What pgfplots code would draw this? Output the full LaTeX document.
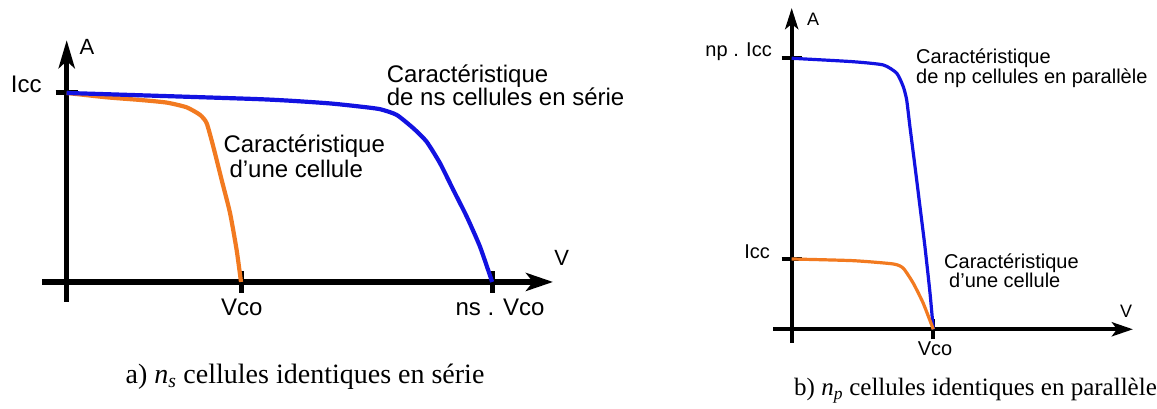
\documentclass[border=0pt]{standalone}
\usepackage{fontspec}
\setmainfont{Liberation Sans}
\newfontfamily\capfont{Liberation Serif}
\usepackage{pgfplots}
\pgfplotsset{compat=1.18}
\usetikzlibrary{arrows.meta}
\definecolor{cellblue}{RGB}{18,18,225}
\definecolor{cellorange}{RGB}{242,122,32}

\begin{document}
\begin{tikzpicture}[x=1pt,y=1pt]
\useasboundingbox (0,0) rectangle (1157,409);

% (a) cells in series
\begin{axis}[
  at={(42.3pt,107pt)}, anchor=south west,
  x=174.3pt, y=189pt,
  xmin=-0.14, xmax=2.79, ymin=-0.106, ymax=1.28,
  axis lines=middle,
  line width=5.5pt,
  every inner x axis line/.append style={-{Stealth[length=27pt,width=18pt,inset=7pt]}},
  every inner y axis line/.append style={-{Stealth[length=28pt,width=16pt,inset=7pt]}},
  xtick={1,2.441}, ytick={1},
  xticklabels={}, yticklabels={},
  tick align=center,
  major tick length=22pt,
  every major tick/.append style={line width=5pt, black},
  clip=false,
]
\addplot[cellorange, line width=4.2pt, smooth, tension=0.35] coordinates {
  (0,1) (0.229,0.977) (0.421,0.963) (0.574,0.949) (0.688,0.924)
  (0.765,0.884) (0.803,0.840) (0.841,0.716) (0.889,0.540)
  (0.937,0.365) (0.975,0.169) (1,0)};
\addplot[cellblue, line width=4.2pt, smooth, tension=0.35] coordinates {
  (0,1) (1.109,0.967) (1.492,0.946) (1.683,0.928) (1.798,0.914)
  (1.893,0.884) (1.989,0.813) (2.065,0.742) (2.142,0.628)
  (2.218,0.487) (2.295,0.346) (2.371,0.187) (2.441,0)};
\end{axis}

% (b) cells in parallel
\begin{axis}[
  at={(773pt,66pt)}, anchor=south west,
  x=141.6pt, y=70.3pt,
  xmin=-0.132, xmax=2.41, ymin=-0.195, ymax=4.57,
  axis lines=middle,
  line width=4pt,
  every inner x axis line/.append style={-{Stealth[length=21pt,width=14pt,inset=5pt]}},
  every inner y axis line/.append style={-{Stealth[length=21pt,width=13pt,inset=5pt]}},
  xtick={1}, ytick={1,3.855},
  xticklabels={}, yticklabels={},
  tick align=center,
  major tick length=20pt,
  every major tick/.append style={line width=4pt, black},
  clip=false,
]
\addplot[cellblue, line width=3.2pt, smooth, tension=0.35] coordinates {
  (0,3.855) (0.094,3.845) (0.435,3.806) (0.647,3.760) (0.742,3.642)
  (0.788,3.451) (0.812,3.262) (0.835,2.882) (0.871,2.313)
  (0.906,1.744) (0.941,1.175) (0.977,0.512) (1,0)};
\addplot[cellorange, line width=3.2pt, smooth, tension=0.35] coordinates {
  (0,1) (0.435,0.976) (0.718,0.929) (0.788,0.868) (0.859,0.654)
  (0.929,0.370) (1,0)};
\end{axis}

% labels, panel (a)
\begin{scope}[every node/.style={inner sep=0pt, font=\fontsize{24}{24}\selectfont}]
\node[anchor=base east] at (41.7,316.3) {Icc};
\node at (241.7,102) {Vco};
\node at (500,102) {ns . Vco};
\node[font=\fontsize{22}{22}\selectfont] at (87,362.3) {A};
\node[font=\fontsize{22}{22}\selectfont] at (561.7,151) {V};
\node[anchor=base west] at (386.7,326) {Caractéristique};
\node[anchor=base west] at (386.7,303) {de ns cellules en série};
\node[anchor=base west] at (223.3,256) {Caractéristique};
\node[anchor=base west] at (229.3,231) {d'une cellule};
\end{scope}

% labels, panel (b)
\begin{scope}[every node/.style={inner sep=0pt, font=\fontsize{20}{20}\selectfont}]
\node[anchor=base east] at (772,352.3) {np . Icc};
\node[anchor=base east] at (770,150.7) {Icc};
\node at (935,60) {Vco};
\node[font=\fontsize{18}{18}\selectfont] at (813,389.5) {A};
\node[font=\fontsize{18}{18}\selectfont] at (1126,97.3) {V};
\node[anchor=base west] at (916,345) {Caractéristique};
\node[anchor=base west] at (916,325.7) {de np cellules en parallèle};
\node[anchor=base west] at (944,140.7) {Caractéristique};
\node[anchor=base west] at (949,121.7) {d'une cellule};
\end{scope}

% captions
\node[inner sep=0pt, anchor=base, font=\capfont\fontsize{28}{28}\selectfont]
  at (305,25.7) {a) \textit{n}\textsubscript{\textit{s}} cellules identiques en série};
\node[inner sep=0pt, anchor=base east, font=\capfont\fontsize{25}{25}\selectfont]
  at (1157,13) {b) \textit{n}\textsubscript{\textit{p}} cellules identiques en parallèle};
\end{tikzpicture}
\end{document}
